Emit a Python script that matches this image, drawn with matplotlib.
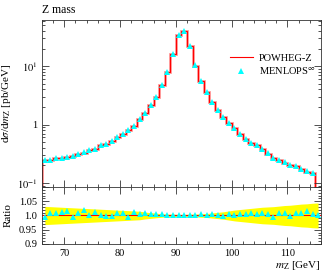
import numpy as np
import matplotlib
matplotlib.use('Agg')
import matplotlib.pyplot as plt
from matplotlib.ticker import MultipleLocator, LogLocator, NullFormatter, FixedLocator, FixedFormatter

# ===========================
# DADOS
# ===========================
bordas = np.arange(66, 117, 1)  # bins de 1 GeV, 66 -> 116

menlops = [0.25, 0.245, 0.265, 0.27, 0.28, 0.29, 0.31, 0.335, 0.37, 0.38,
           0.44, 0.47, 0.52, 0.61, 0.69, 0.80, 0.96, 1.25, 1.56, 2.15,
           3.0, 4.8, 8.1, 16.0, 34.0, 40.0, 22.0, 10.3, 5.5, 3.65,
           2.4, 1.8, 1.33, 1.06, 0.86, 0.69, 0.56, 0.49, 0.44, 0.38,
           0.32, 0.27, 0.245, 0.225, 0.205, 0.195, 0.172, 0.157, 0.15, 0.07]

razao = [0.994, 1.008, 1.008, 1.013, 1.017, 0.996, 1.008, 1.019, 1.003, 1.011,
         1.003, 0.999, 0.999, 1.008, 1.008, 0.996, 1.013, 1.005, 1.008, 1.005,
         1.005, 1.005, 1.003, 1.003, 1.003, 1.003, 1.000, 1.003, 1.005, 1.000,
         1.005, 1.003, 0.998, 1.005, 1.003, 1.005, 1.005, 1.008, 1.005, 1.008,
         1.005, 0.996, 1.008, 1.010, 0.997, 1.008, 1.008, 1.017, 1.005, 1.000]

# meia largura da banda amarela (incerteza relativa)
banda = [0.032, 0.031, 0.030, 0.029, 0.028, 0.027, 0.026, 0.025, 0.024, 0.023,
         0.022, 0.021, 0.020, 0.019, 0.018, 0.017, 0.016, 0.015, 0.012, 0.010,
         0.008, 0.006, 0.005, 0.005, 0.004, 0.004, 0.005, 0.005, 0.006, 0.007,
         0.009, 0.011, 0.013, 0.016, 0.019, 0.021, 0.023, 0.025, 0.027, 0.029,
         0.030, 0.031, 0.033, 0.035, 0.036, 0.038, 0.040, 0.041, 0.043, 0.044]

centros = (bordas[:-1] + bordas[1:]) / 2
menlops = np.array(menlops)
razao = np.array(razao)
banda = np.array(banda)
powheg = menlops / razao

# ===========================
# ESTILO
# ===========================
plt.rcParams['font.family'] = ['Liberation Serif', 'DejaVu Serif']
plt.rcParams['mathtext.fontset'] = 'stix'
plt.rcParams['font.size'] = 7.5

fig = plt.figure(figsize=(3.32, 2.72), dpi=100)
ax = fig.add_axes([0.1265, 0.3125, 0.840, 0.614])
axr = fig.add_axes([0.1265, 0.103, 0.840, 0.2095], sharex=ax)

# painel principal
ax.stairs(powheg, bordas, color='#ff9999', lw=2.0)
ax.stairs(powheg, bordas, color='red', lw=0.8, label='POWHEG-Z')
ax.plot(centros, menlops, ls='none', marker='^', color='cyan', ms=4.5,
        markeredgewidth=0, label=r'MENLOPS$^{\infty}$')
ax.set_yscale('log')
ax.set_ylim(0.085, 62)
ax.set_xlim(66, 116)
ax.yaxis.set_minor_locator(LogLocator(base=10, subs=np.arange(2, 10), numticks=10))
ax.yaxis.set_minor_formatter(NullFormatter())
ax.set_yticks([0.1, 1, 10])
ax.set_yticklabels([r'$10^{-1}$', '1', r'$10^{1}$'])
ax.set_ylabel(r'd$\sigma$/d$m_{\mathrm{Z}}$ [pb/GeV]', fontsize=8)
ax.set_title('Z mass', loc='left', fontsize=8.5, pad=5)
ax.tick_params(labelbottom=False)
ax.legend(loc='upper right', bbox_to_anchor=(1.0, 0.83), frameon=False,
          fontsize=7.5, handlelength=2.2, handletextpad=0.6, labelspacing=0.25,
          borderaxespad=0.1)

# painel da razão
axr.fill_between(centros, 1 - banda, 1 + banda, color='yellow', lw=0)
axr.axhline(1.0, color='red', lw=0.8)
axr.plot(centros, razao, ls='none', marker='^', color='cyan', ms=4.5, markeredgewidth=0)
axr.set_ylim(0.9, 1.1)
axr.yaxis.set_major_locator(FixedLocator([0.9, 0.95, 1.0, 1.05, 1.1]))
axr.yaxis.set_major_formatter(FixedFormatter(['0.9', '0.95', '1.0', '1.05', '']))
axr.yaxis.set_minor_locator(MultipleLocator(0.01))
axr.set_ylabel('Ratio', fontsize=8)
axr.set_xlabel(r'$m_{\mathrm{Z}}$ [GeV]', loc='right', fontsize=8, labelpad=1)
axr.xaxis.set_major_locator(MultipleLocator(10))
axr.xaxis.set_minor_locator(MultipleLocator(2))

for a in (ax, axr):
    a.tick_params(which='both', direction='in', top=True, right=True, width=0.6,
                  color='#333333')
    a.tick_params(which='major', length=5)
    a.tick_params(which='minor', length=2.5)
    for s in a.spines.values():
        s.set_linewidth(0.6)
        s.set_color('#333333')

ax.yaxis.set_label_coords(-0.105, 0.5)
axr.yaxis.set_label_coords(-0.105, 0.5)

fig.savefig('out.png', dpi=100)
